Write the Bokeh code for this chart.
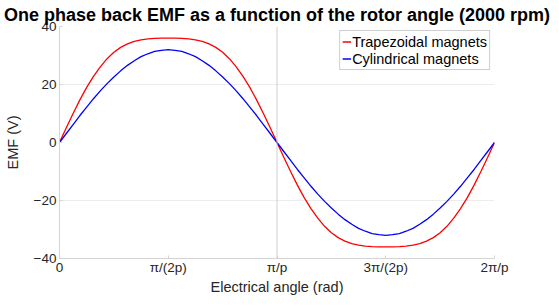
from bokeh.plotting import figure
from bokeh.models import Span, FixedTicker, Legend, LegendItem, Range1d
from bokeh.embed import file_html
from bokeh.resources import INLINE

# Electrical angle as fraction of 2*pi/p (0 .. 1), 64 steps
angle = [i / 64 for i in range(65)]
trapezoidal = [0, 5.1, 10.0, 14.7, 19.0, 22.8, 26.1, 28.9, 31.1, 32.8, 34.0, 34.9, 35.4, 35.7, 35.9, 36.0, 36.0,
               36.0, 35.9, 35.7, 35.4, 34.9, 34.0, 32.8, 31.1, 28.9, 26.1, 22.8, 19.0, 14.7, 10.0, 5.1, 0,
               -5.1, -10.0, -14.7, -19.0, -22.8, -26.1, -28.9, -31.1, -32.8, -34.0, -34.9, -35.4, -35.7, -35.9, -36.0, -36.0,
               -36.0, -35.9, -35.7, -35.4, -34.9, -34.0, -32.8, -31.1, -28.9, -26.1, -22.8, -19.0, -14.7, -10.0, -5.1, 0]
cylindrical = [0, 3.1, 6.2, 9.3, 12.2, 15.1, 17.8, 20.3, 22.6, 24.7, 26.6, 28.2, 29.6, 30.6, 31.4, 31.8, 32.0,
               31.8, 31.4, 30.6, 29.6, 28.2, 26.6, 24.7, 22.6, 20.3, 17.8, 15.1, 12.2, 9.3, 6.2, 3.1, 0,
               -3.1, -6.2, -9.3, -12.2, -15.1, -17.8, -20.3, -22.6, -24.7, -26.6, -28.2, -29.6, -30.6, -31.4, -31.8, -32.0,
               -31.8, -31.4, -30.6, -29.6, -28.2, -26.6, -24.7, -22.6, -20.3, -17.8, -15.1, -12.2, -9.3, -6.2, -3.1, 0]
x_ticks = [0, 0.25, 0.5, 0.75, 1.0]
x_tick_labels = ["0", "π/(2p)", "π/p", "3π/(2p)", "2π/p"]
y_ticks = [-40, -20, 0, 20, 40]

FONT = "Liberation Sans"

p = figure(width=559, height=307, output_backend="svg", toolbar_location=None,
           x_range=Range1d(0, 1), y_range=Range1d(-40, 40),
           title="One phase back EMF as a function of the rotor angle (2000 rpm)",
           min_border_left=59, min_border_right=65, min_border_bottom=49, min_border_top=26)

p.title.text_font = FONT
p.title.text_font_size = "18px"
p.title.text_font_style = "bold"
p.title.text_color = "black"
p.title.align = "center"
p.title.vertical_align = "top"
p.title.standoff = 0
p.title.offset = 0

p.outline_line_color = None

r1 = p.line(angle, trapezoidal, line_color="#ff0000", line_width=1.3)
r2 = p.line(angle, cylindrical, line_color="#0000ff", line_width=1.3)

for ax in (p.xaxis[0], p.yaxis[0]):
    ax.axis_line_color = "#d4d4d4"
    ax.major_tick_line_color = "#d4d4d4"
    ax.major_tick_in = 3
    ax.major_tick_out = 0
    ax.minor_tick_line_color = None
    ax.major_label_text_font = FONT
    ax.major_label_text_font_size = "13.5px"
    ax.major_label_text_color = "#262626"
    ax.axis_label_text_font = FONT
    ax.axis_label_text_font_size = "14.5px"
    ax.axis_label_text_font_style = "normal"
    ax.axis_label_text_color = "#262626"

p.xaxis.ticker = FixedTicker(ticks=x_ticks)
p.xaxis.major_label_overrides = {t: l for t, l in zip(x_ticks, x_tick_labels)}
p.xaxis.axis_label = "Electrical angle (rad)"
p.xaxis.axis_label_standoff = 1
p.xaxis.major_label_standoff = 1
p.yaxis.ticker = FixedTicker(ticks=y_ticks)
p.yaxis.axis_label = "EMF (V)"
p.yaxis.axis_label_standoff = 10
p.yaxis.major_label_standoff = 3

p.xgrid.grid_line_color = None
p.ygrid.grid_line_color = "#ececec"
p.ygrid.ticker = FixedTicker(ticks=[-20, 20])

p.add_layout(Span(location=0.5, dimension="height", line_color="#cfcfcf", line_width=1))

legend = Legend(items=[LegendItem(label="Trapezoidal magnets", renderers=[r1]),
                       LegendItem(label="Cylindrical magnets", renderers=[r2])],
                location="top_right")
legend.label_text_font = FONT
legend.label_text_font_size = "14.5px"
legend.label_text_color = "black"
legend.glyph_width = 9
legend.glyph_height = 17
legend.label_standoff = 1
legend.label_height = 17
legend.spacing = 0
legend.padding = 2
legend.margin = 4
legend.border_line_color = "#a0a0a0"
legend.border_line_width = 1
legend.background_fill_alpha = 1
p.add_layout(legend)

open("out.html", "w").write(file_html(p, INLINE))
